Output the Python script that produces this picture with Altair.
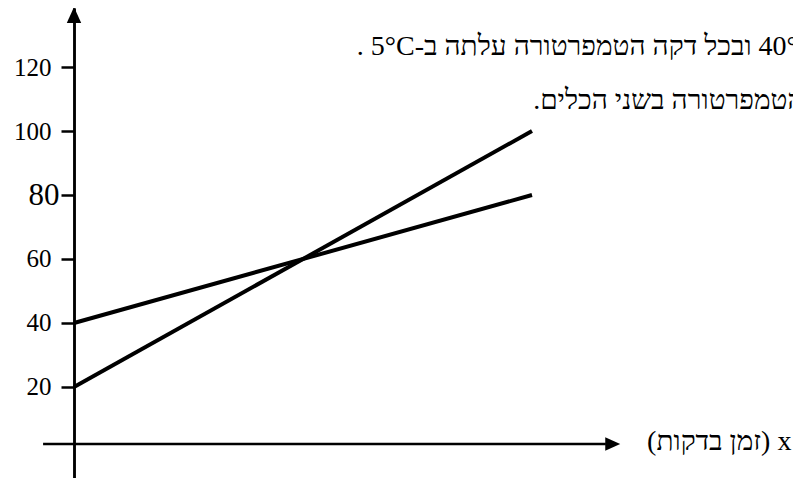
import altair as alt
import pandas as pd

# ---- data ----
minutes = [0, 8]
vessel_a = [20, 100]   # steeper line
vessel_b = [40, 80]    # rises 5°C per minute
y_ticks = [20, 40, 60, 100, 120]
y_tick_big = [80]

text_line1 = "40° ובכל דקה הטמפרטורה עלתה ב-5°C ."
text_line2 = "הטמפרטורה בשני הכלים."
x_label = "x (זמן בדקות)"

RLE, PDF = "\u202b", "\u202c"

lines_df = pd.DataFrame({
    "t": minutes + minutes,
    "temp": vessel_a + vessel_b,
    "series": ["a"] * len(minutes) + ["b"] * len(minutes),
})

# ---- layout ----
PAD_LEFT = 66
W, H = 719, 470
PX_PER_MIN = 57.25
x_scale = alt.Scale(domain=[0, W / PX_PER_MIN], nice=False, zero=False)
y_scale = alt.Scale(domain=[-8.44, 138.44], nice=False, zero=False)

FONT = "Liberation Serif"

common_axis = dict(
    title=None, grid=False, orient="left",
    domainColor="black", domainWidth=2.5,
    tickColor="black", tickWidth=2.5, tickSize=13,
    labelFont=FONT, labelColor="black",
    labelFlush=False, labelOverlap=False,
)
y_axis = alt.Axis(values=y_ticks, labelFontSize=25, labelPadding=10, **common_axis)
y_axis_big = alt.Axis(values=y_tick_big, labelFontSize=31, labelPadding=2, **common_axis)


def X(v):
    return alt.X(datum=v, scale=x_scale, axis=None)


def Y(v, axis=None):
    return alt.Y(datum=v, scale=y_scale, axis=axis)


lines = alt.Chart(lines_df).mark_line(color="black", strokeWidth=4).encode(
    x=alt.X("t:Q", scale=x_scale, axis=None),
    y=alt.Y("temp:Q", scale=y_scale, axis=y_axis),
    detail="series:N",
)

x_axis_line = alt.Chart().mark_rule(color="black", strokeWidth=2.5).encode(
    x=X(-0.54), x2=alt.X2(datum=9.29), y=Y(2.19)
)

y_arrow = alt.Chart().mark_point(
    shape="M0,-1L-0.9,1L0.9,1Z", filled=True, size=256, color="black", opacity=1, strokeWidth=0
).encode(x=X(0), y=Y(136.25, y_axis_big))

x_arrow = alt.Chart().mark_point(
    shape="M1,0L-1,-0.9L-1,0.9Z", filled=True, size=225, color="black", opacity=1, strokeWidth=0
).encode(x=X(9.41), y=Y(2.19))


def label(txt, t, v):
    return alt.Chart().mark_text(
        align="left", baseline="alphabetic", font=FONT, fontSize=28, color="black"
    ).encode(x=X(t), y=Y(v), text=alt.value(RLE + txt + PDF))


chart = alt.layer(
    lines, x_axis_line, y_arrow, x_arrow,
    label(text_line1, 4.94, 123.6),
    label(text_line2, 8.02, 107.0),
    label(x_label, 10.01, 0.2),
).resolve_scale(y="independent").properties(
    width=W, height=H,
    padding={"left": PAD_LEFT, "top": 0, "right": 0, "bottom": 0},
    autosize=alt.AutoSizeParams(type="none"),
    background="white",
).configure_view(stroke=None)

chart.save("out.html", embed_options={"renderer": "svg", "actions": False})
